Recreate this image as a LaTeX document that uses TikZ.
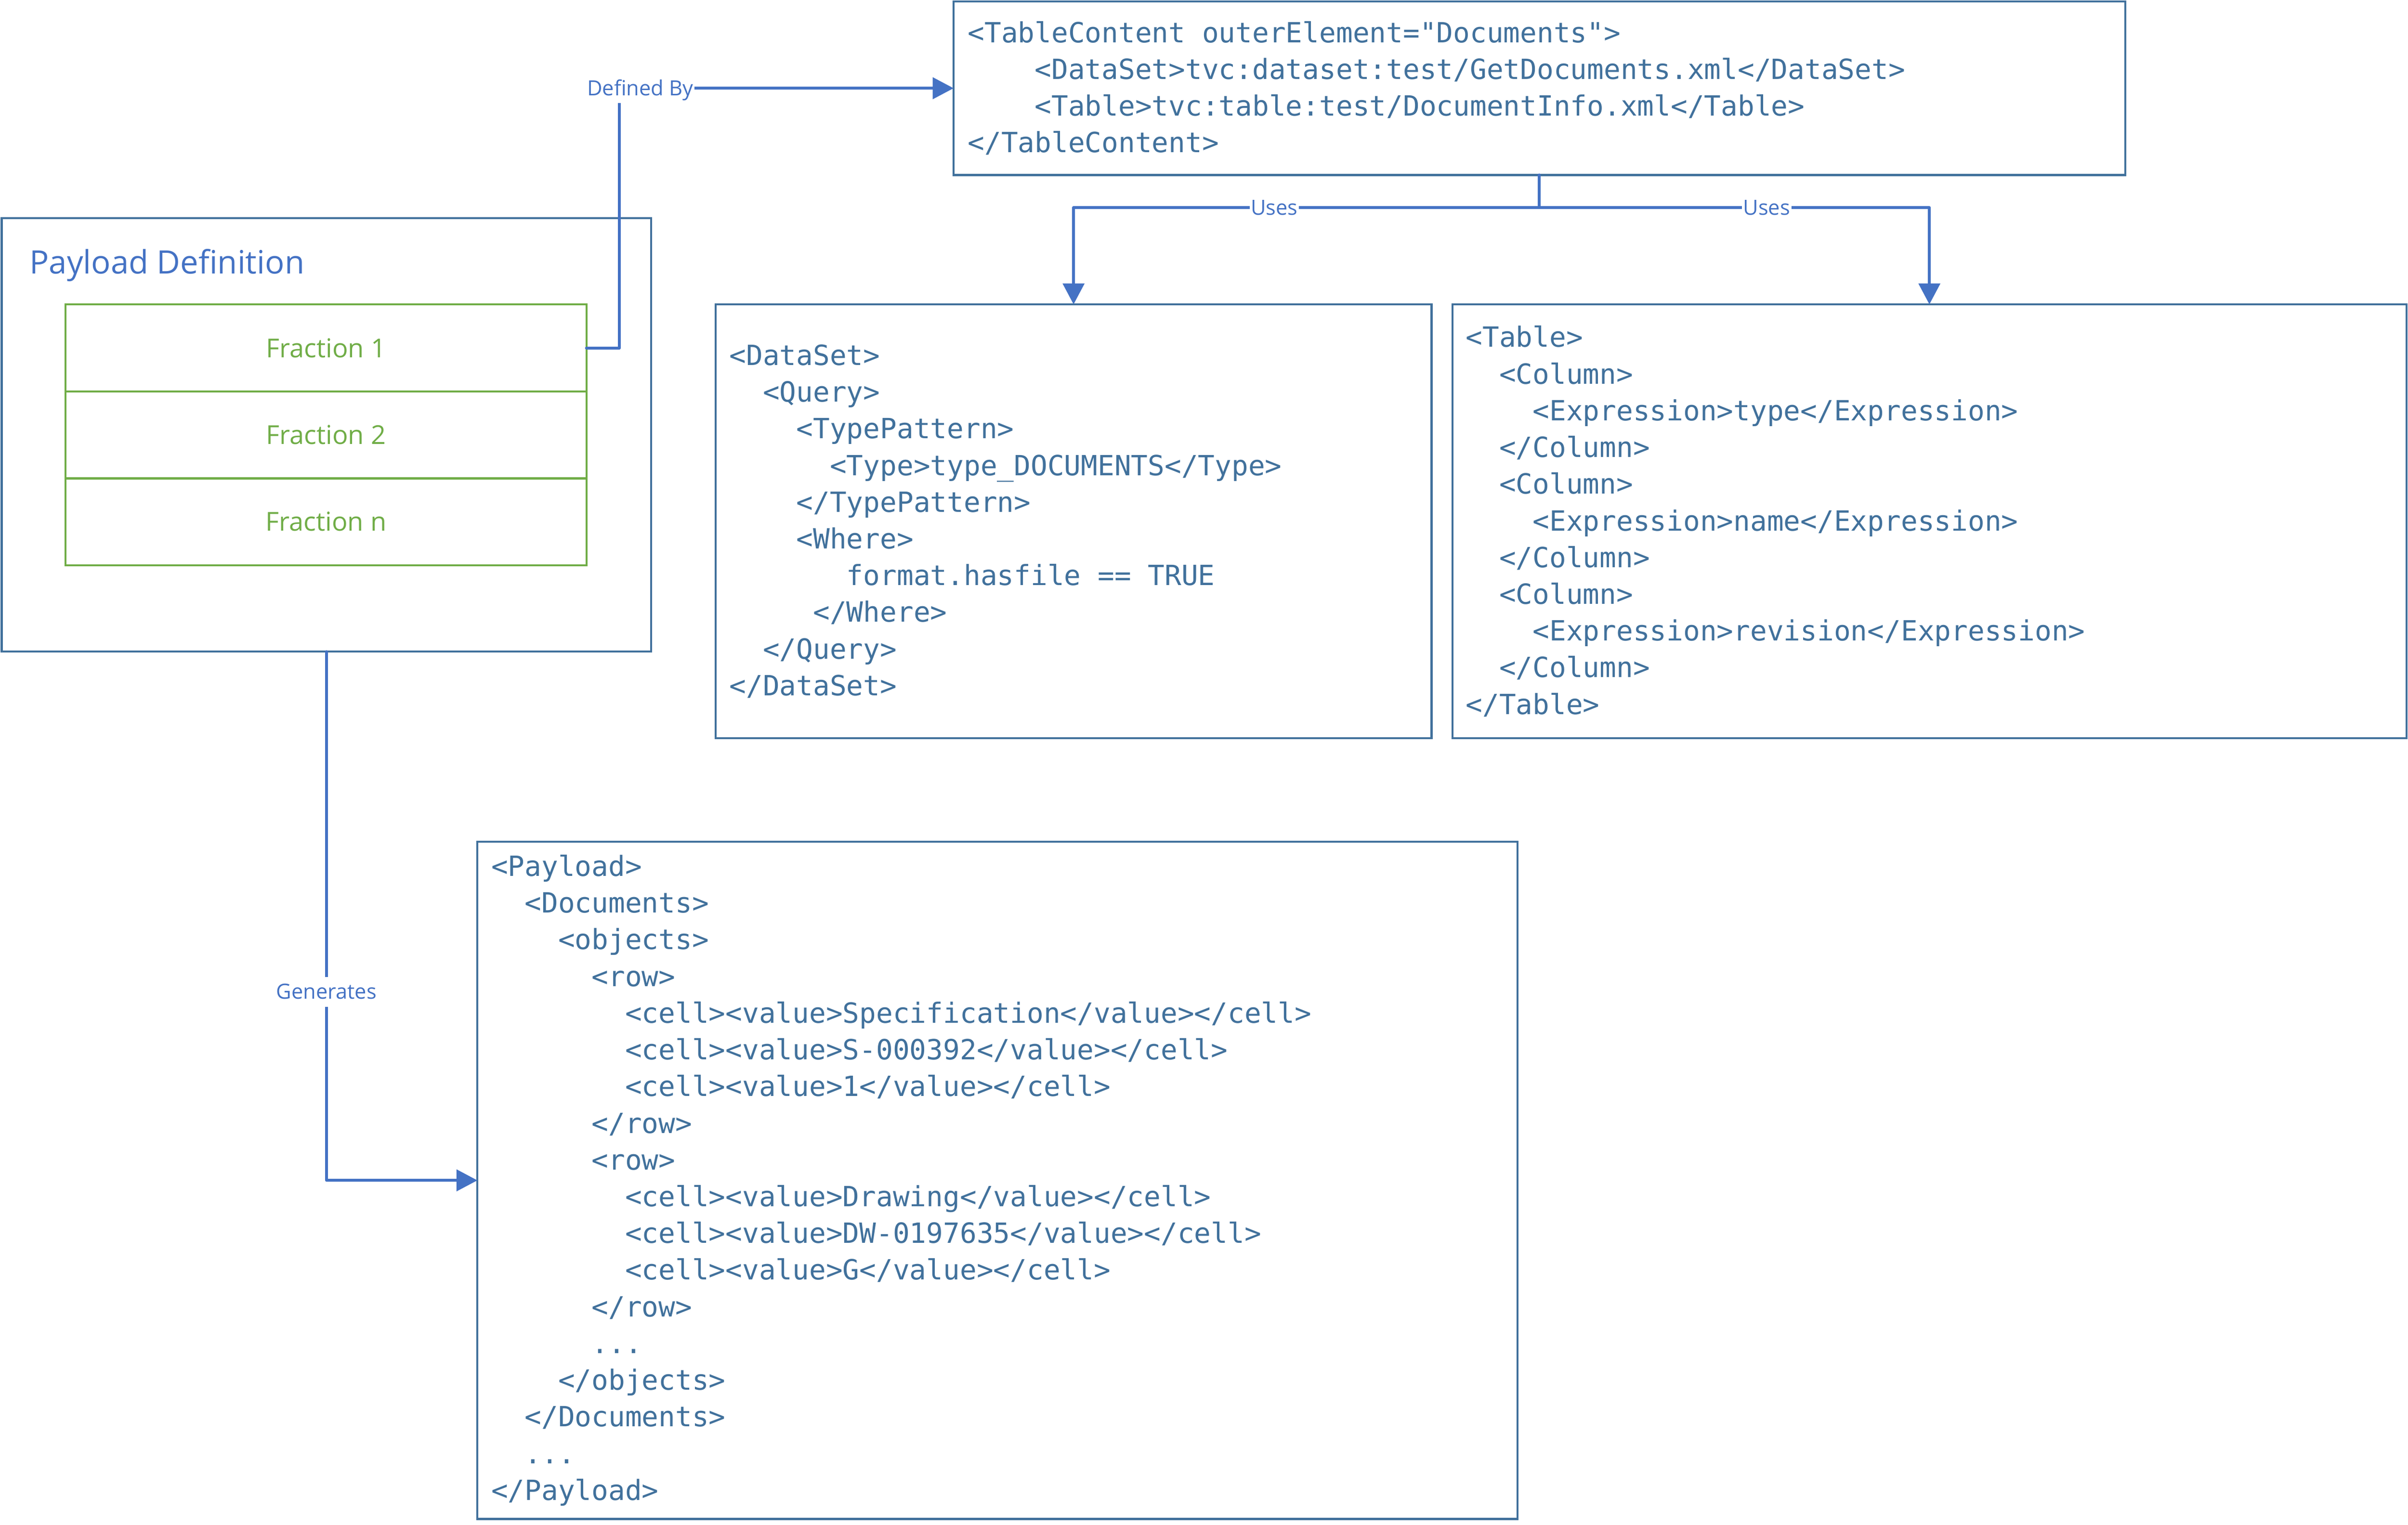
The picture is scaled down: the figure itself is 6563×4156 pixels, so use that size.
\documentclass[tikz,border=0pt]{standalone}
\usepackage{fontspec}
\setsansfont{Open Sans}
\setmonofont{DejaVu Sans Mono}
\usetikzlibrary{arrows.meta,calc}
\definecolor{boxline}{HTML}{41719C}
\definecolor{connc}{HTML}{4472C4}
\definecolor{grn}{HTML}{70AD47}
\newcommand\ind[1]{\hspace*{#1\fontcharwd\font`x}}
\tikzset{
  boxs/.style={draw=boxline, line width=1.56pt, rectangle, outer sep=0pt, inner sep=0pt},
  frac/.style={draw=grn, line width=1.56pt, rectangle, outer sep=0pt, inner sep=0pt,
    text=grn, font=\sffamily\fontsize{20.2}{24}\selectfont,
    minimum width=14.19cm, minimum height=2.37cm},
  code/.style={text=boxline, font=\ttfamily\fontsize{21.55}{28.45}\selectfont,
    align=left, anchor=west, inner sep=0pt},
  conn/.style={draw=connc, line width=2.28pt, line cap=round, line join=round,
    -{Triangle[length=16.2pt,width=16.5pt]}},
  lbl/.style={fill=white, text=connc, font=\sffamily\fontsize{16.2}{19}\selectfont,
    inner xsep=1pt, inner ysep=0pt, text height=17.1pt, text depth=6pt}
}
\begin{document}
\begin{tikzpicture}[x=0.01cm, y=-0.01cm]
\useasboundingbox (0,0) rectangle (6563,4156);

% Payload definition container
\node[boxs, minimum width=17.69cm, minimum height=11.81cm] (pd) at (889.5,1185.5) {};
\node[anchor=base west, text=connc, inner sep=0pt,
  font=\sffamily\fontsize{25}{30}\selectfont] (pdt) at (80,746) {Payload Definition};
\node[frac] (f1) at (888.5,948.5) {Fraction 1};
\node[frac] (f2) at (888.5,1185.5) {Fraction 2};
\node[frac] (fn) at (888.5,1422) {Fraction n};

% TableContent
\node[boxs, minimum width=31.91cm, minimum height=4.73cm] (tc) at (4195.5,240.5) {};
\node[code] (tct) at ($(tc.west)+(38,0)$) {%
<TableContent outerElement="Documents">\\
\ind{4}<DataSet>tvc:dataset:test/GetDocuments.xml</DataSet>\\
\ind{4}<Table>tvc:table:test/DocumentInfo.xml</Table>\\
</TableContent>};

% DataSet
\node[boxs, minimum width=19.50cm, minimum height=11.82cm] (ds) at (2926,1421) {};
\node[code] (dst) at ($(ds.west)+(37,0)$) {%
<DataSet>\\
\ind{2}<Query>\\
\ind{4}<TypePattern>\\
\ind{6}<Type>type\_DOCUMENTS</Type>\\
\ind{4}</TypePattern>\\
\ind{4}<Where>\\
\ind{7}format.hasfile == TRUE\\
\ind{5}</Where>\\
\ind{2}</Query>\\
</DataSet>};

% Table
\node[boxs, minimum width=25.99cm, minimum height=11.82cm] (tb) at (5258.5,1421) {};
\node[code] (tbt) at ($(tb.west)+(36,0)$) {%
<Table>\\
\ind{2}<Column>\\
\ind{4}<Expression>type</Expression>\\
\ind{2}</Column>\\
\ind{2}<Column>\\
\ind{4}<Expression>name</Expression>\\
\ind{2}</Column>\\
\ind{2}<Column>\\
\ind{4}<Expression>revision</Expression>\\
\ind{2}</Column>\\
</Table>};

% Payload
\node[boxs, minimum width=28.33cm, minimum height=18.45cm] (pl) at (2718.5,3217.5) {};
\node[code] (plt) at ($(pl.west)+(37,0)$) {%
<Payload>\\
\ind{2}<Documents>\\
\ind{4}<objects>\\
\ind{6}<row>\\
\ind{8}<cell><value>Specification</value></cell>\\
\ind{8}<cell><value>S-000392</value></cell>\\
\ind{8}<cell><value>1</value></cell>\\
\ind{6}</row>\\
\ind{6}<row>\\
\ind{8}<cell><value>Drawing</value></cell>\\
\ind{8}<cell><value>DW-0197635</value></cell>\\
\ind{8}<cell><value>G</value></cell>\\
\ind{6}</row>\\
\ind{6}...\\
\ind{4}</objects>\\
\ind{2}</Documents>\\
\ind{2}...\\
</Payload>};

% connectors
\coordinate (db) at (1688,948.5);
\draw[conn] (f1.east) -- (db) |- (tc.west);
\coordinate (uj) at (4195.5,566);
\draw[conn] (tc.south) -- (uj) -| (ds.north);
\draw[conn] (tc.south) -- (uj) -| (tb.north);
\draw[conn] (pd.south) |- (pl.west);

% connector labels
\node[lbl] (ldb) at (1745,240.5) {Defined By};
\node[lbl] (lu1) at (3473,566) {Uses};
\node[lbl] (lu2) at (4815,566) {Uses};
\node[lbl] (lgen) at (889.5,2703.5) {Generates};
\end{tikzpicture}
\end{document}
